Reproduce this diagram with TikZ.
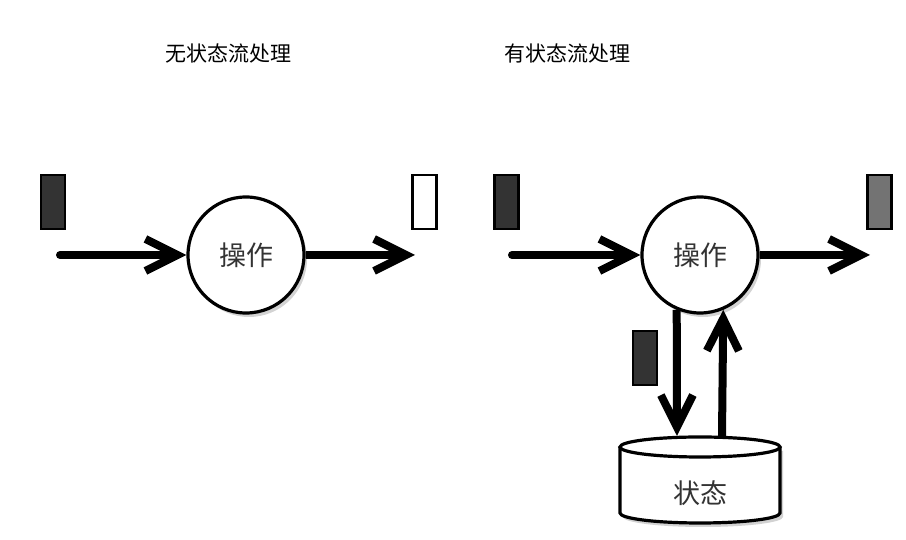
\documentclass[tikz,border=0pt]{standalone}
\usepackage{fontspec}
\newfontfamily\cjk{Noto Sans CJK SC}
\usetikzlibrary{arrows.meta,shadows}
\begin{document}
\begin{tikzpicture}[x=1pt,y=1pt,
  flow/.style={line width=8pt,-{Straight Barb[length=32pt,width=32pt,line width=8pt]}},
  opnode/.style={circle,draw,line width=3.2pt,fill=white,minimum size=116pt,inner sep=0pt,
     font=\cjk\fontsize{27}{27}\selectfont,text=black!80,
     drop shadow={shadow xshift=3pt,shadow yshift=-4pt,opacity=0.35}},
  evt/.style={rectangle,draw,line width=2.4pt,minimum width=24pt,minimum height=54pt,inner sep=0pt},
  title/.style={font=\cjk\fontsize{21}{21}\selectfont,text=black}
]
\useasboundingbox (0,0) rectangle (906,540);
% titles
\node[title] (t1) at (228,487) {无状态流处理};
\node[title] (t2) at (567,487) {有状态流处理};
% left
\node[opnode] (op1) at (246,285) {操作};
\node[evt,fill=black!80] (e1) at (53,338) {};
\node[evt,fill=white] (e2) at (424.5,338) {};
\coordinate (a1) at (60,285);
\coordinate (b1) at (415,285);
\draw[flow,line cap=round] (a1) -- (op1.west);
\draw[flow] (op1.east) -- (b1);
% right
\node[opnode] (op2) at (700,285) {操作};
\node[evt,fill=black!80] (e3) at (506.5,338) {};
\node[evt,fill=black!55] (e4) at (879.5,338) {};
\node[evt,fill=black!80] (e5) at (645,182) {};
\coordinate (a2) at (512,285);
\coordinate (b2) at (870,285);
\draw[flow,line cap=round] (a2) -- (op2.west);
\draw[flow] (op2.east) -- (b2);
% cylinder
\fill[black!35,opacity=0.5] (623,89) -- (623,23) arc[start angle=180,end angle=360,x radius=80,y radius=10] -- (783,89) -- cycle;
\draw[line width=3.2pt,fill=white] (620,93) -- (620,27) arc[start angle=180,end angle=360,x radius=80,y radius=10] -- (780,93);
\draw[line width=3.2pt,fill=white] (700,93) ellipse[x radius=80,y radius=10];
\node[font=\cjk\fontsize{27}{27}\selectfont,text=black!80] (st) at (700,47) {状态};
\coordinate (cd) at (677,104);
\coordinate (cu) at (722,104);
\draw[flow] (op2.-113.4) -- (cd);
\draw[flow] (cu) -- (op2.-67.7);
\end{tikzpicture}
\end{document}
